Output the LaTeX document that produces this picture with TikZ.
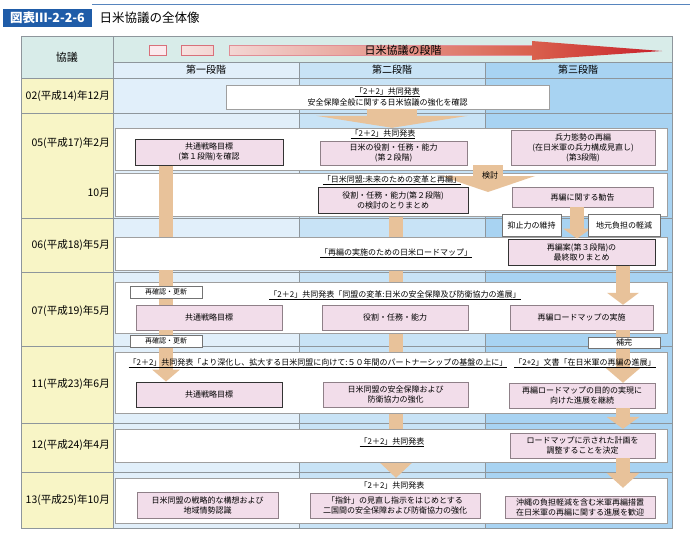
\documentclass[tikz,border=0pt]{standalone}
\usepackage{fontspec}
\setmainfont{Noto Sans CJK JP}
\usetikzlibrary{arrows.meta,positioning,shadows}
\definecolor{titleblue}{HTML}{1F5CA8}
\definecolor{headc}{HTML}{D8ECE9}
\definecolor{yearc}{HTML}{F8F5C6}
\definecolor{colone}{HTML}{E1EFFA}
\definecolor{coltwo}{HTML}{C8E3F6}
\definecolor{colthree}{HTML}{A8D3F2}
\definecolor{gridc}{HTML}{8E969C}
\definecolor{pinkc}{HTML}{F2DDEA}
\definecolor{pinkline}{HTML}{8F8088}
\definecolor{tanc}{HTML}{E8C29A}
\definecolor{stagec}{HTML}{D9707A}
\definecolor{stagelt}{HTML}{FBEAEE}
\definecolor{stagemid}{HTML}{F3D6D3}
\definecolor{stagedk}{HTML}{D9604D}
\definecolor{stagetip}{HTML}{C8202A}
\pgfdeclarelayer{back}
\pgfdeclarelayer{mid}
\pgfsetlayers{back,mid,main}

\begin{document}
\begin{tikzpicture}[x=1pt,y=-1pt,font=\fontsize{8}{10}\selectfont]
\tikzstyle{panel}=[draw=gray!75,fill=white,inner sep=0pt,align=center,minimum width=552pt,drop shadow={shadow xshift=1.2pt,shadow yshift=-1.2pt,fill=gray!60,opacity=.8}]
\tikzstyle{pbox}=[draw=pinkline,fill=pinkc,inner sep=0pt,align=center]
\tikzstyle{pboxb}=[pbox,draw=black!80,line width=1pt]
\tikzstyle{tag}=[draw=gray!90!black,fill=white,inner sep=0pt]
\tikzstyle{note}=[inner sep=0pt]
\tikzstyle{yr}=[anchor=east,inner sep=0pt,font=\fontsize{10.5}{12}\selectfont]
\tikzstyle{stagehead}=[inner sep=0pt,font=\fontsize{10}{12}\selectfont]
\tikzstyle{tanbar}=[draw=tanc,line width=14pt]
\useasboundingbox (0,0) rectangle (694,533);

% table background
\begin{pgfonlayer}{back}
\fill[headc] (21,36) rectangle (672,62);
\fill[headc] (21,62) rectangle (113,78);
\fill[yearc] (21,78) rectangle (113,528);
\fill[colone] (113,62) rectangle (299,528);
\fill[coltwo] (299,62) rectangle (485,528);
\fill[colthree] (485,62) rectangle (672,528);
\draw[gridc] (21,36) rectangle (672,528);
\draw[gridc] (113,36) -- (113,528) (113,62) -- (672,62) (21,78) -- (672,78)
  (299,62) -- (299,528) (485,62) -- (485,528);
\foreach \y in {113,218,272,346,423,472}
  \draw[gridc,line width=.8pt] (21,\y) -- (672,\y);
\end{pgfonlayer}

% title
\fill[titleblue] (3,9) rectangle (92,27);
\draw[titleblue!75,line width=1pt] (92,4) -- (690,4);
\node[text=white,font=\fontsize{12.5}{14}\selectfont\bfseries] (fig) at (47.5,18) {図表Ⅲ-2-2-6};
\node[anchor=west,font=\fontsize{12.5}{14}\selectfont] (title) at (96,18) {日米協議の全体像};

% stage arrow
\draw[stagec,fill=stagelt] (149,45) rectangle (166,55);
\draw[stagec,left color=stagemid!70,right color=stagemid] (181,45) rectangle (213,55);
\shade[left color=stagemid,right color=stagedk] (229,45) rectangle (533,55);
\draw[stagec!80] (533,45) -- (229,45) -- (229,55) -- (533,55);
\shade[left color=stagedk,right color=stagetip] (532,41) -- (662,51) -- (532,60) -- cycle;
\node[stagehead,font=\fontsize{11}{12}\selectfont] (stage) at (403,50) {日米協議の段階};

\node[stagehead,font=\fontsize{11}{12}\selectfont] (kyogi) at (67,57) {協議};
\node[stagehead] (st1) at (206,70) {第一段階};
\node[stagehead] (st2) at (392,70) {第二段階};
\node[stagehead] (st3) at (578,70) {第三段階};

% years
\node[yr] (y02) at (110,96) {02(平成14)年12月};
\node[yr] (y05) at (110,143) {05(平成17)年2月};
\node[yr] (y10) at (110,193) {10月};
\node[yr] (y06) at (110,245) {06(平成18)年5月};
\node[yr] (y07) at (110,311) {07(平成19)年5月};
\node[yr] (y11) at (110,384) {11(平成23)年6月};
\node[yr] (y12) at (110,445) {12(平成24)年4月};
\node[yr] (y13) at (110,500) {13(平成25)年10月};

% panels
\node[panel,minimum width=323pt,minimum height=24pt] (p02) at (387.5,97) {\underline{「2＋2」共同発表}\\[1pt]安全保障全般に関する日米協議の強化を確認};
\node[panel,minimum height=42pt] (p05) at (391,149) {};
\node[panel,minimum height=43pt] (p10) at (391,194.5) {};
\node[panel,minimum height=33pt] (p06) at (391,253.5) {};
\node[panel,minimum height=51pt] (p07) at (391,307.5) {};
\node[panel,minimum height=61pt] (p11) at (391,382.5) {};
\node[panel,minimum height=33pt] (p12) at (391,445.5) {};
\node[panel,minimum height=45pt] (p13) at (391,500.5) {};

% boxes
\node[pboxb,minimum width=148pt,minimum height=26pt] (mokuhyo1) at (209,152) {共通戦略目標\\(第１段階)を確認};
\node[pbox,minimum width=147pt,minimum height=24pt] (yakuwari1) at (393.5,153) {日米の役割・任務・能力\\(第２段階)};
\node[pbox,minimum width=144pt,minimum height=35pt] (taisei) at (583,147.5) {兵力態勢の再編\\(在日米軍の兵力構成見直し)\\(第3段階)};
\node[pboxb,minimum width=150pt,minimum height=26pt] (kento) at (393,200) {役割・任務・能力(第２段階)\\の検討のとりまとめ};
\node[pbox,minimum width=141pt,minimum height=20pt] (kankoku) at (582.5,197) {再編に関する勧告};
\node[pboxb,minimum width=147pt,minimum height=26pt] (saihen) at (581.5,252) {再編案(第３段階)の\\最終取りまとめ};
\node[pbox,minimum width=146pt,minimum height=25pt] (mokuhyo2) at (209,317.5) {共通戦略目標};
\node[pbox,minimum width=146pt,minimum height=25pt] (yakuwari2) at (395,317.5) {役割・任務・能力};
\node[pbox,minimum width=143pt,minimum height=25pt] (roadmap) at (581.5,317.5) {再編ロードマップの実施};
\node[pboxb,minimum width=146pt,minimum height=25pt] (mokuhyo3) at (209,394.5) {共通戦略目標};
\node[pbox,minimum width=145pt,minimum height=25pt] (kyoka) at (395.5,394.5) {日米同盟の安全保障および\\防衛協力の強化};
\node[pbox,minimum width=146pt,minimum height=25pt] (keizoku) at (582,395.5) {再編ロードマップの目的の実現に\\向けた進展を継続};
\node[pbox,minimum width=145pt,minimum height=25pt] (chosei) at (582.5,445.5) {ロードマップに示された計画を\\調整することを決定};
\node[pbox,minimum width=141pt,minimum height=26pt] (koso) at (207.5,505) {日米同盟の戦略的な構想および\\地域情勢認識};
\node[pbox,minimum width=170pt,minimum height=25pt] (shishin) at (395,505.5) {「指針」の見直し指示をはじめとする\\二国間の安全保障および防衛協力の強化};
\node[pbox,minimum width=150pt,minimum height=22pt] (kangei) at (580,507) {沖縄の負担軽減を含む米軍再編措置\\在日米軍の再編に関する進展を歓迎};

% arrows
\coordinate (xa) at (166,0);
\coordinate (xb) at (396,0);
\coordinate (xc) at (623,0);
\coordinate (xd) at (577,0);
\coordinate (xe) at (488,0);
\coordinate (xf) at (392,0);
\coordinate (kt) at (488,192);

\begin{pgfonlayer}{mid}
\draw[tanbar,-{Triangle[width=32pt,length=15pt,line width=0pt]}] (kento.south -| xb) -- (p13.north -| xb);
\end{pgfonlayer}

\draw[tanbar,line width=50pt,-{Triangle[width=152pt,length=12pt,line width=0pt]}] (p02.south -| xf) -- (p05.north -| xf);
\draw[tanbar] (mokuhyo1.south -| xa) -- (p06.north -| xa);
\draw[tanbar] (p06.south -| xa) -- (mokuhyo2.north -| xa);
\draw[tanbar,-{Triangle[width=28pt,length=12pt,line width=0pt]}] (mokuhyo2.south -| xa) -- (mokuhyo3.north -| xa);
\draw[tanbar,line width=30pt,-{Triangle[width=94pt,length=16pt,line width=0pt]}] (yakuwari1.south -| xe) -- (kt);
\draw[tanbar,-{Triangle[width=28pt,length=10pt,line width=0pt]}] (kankoku.south -| xd) -- (saihen.north -| xd);
\draw[tanbar,-{Triangle[width=32pt,length=12pt,line width=0pt]}] (saihen.south -| xc) -- (roadmap.north -| xc);
\draw[tanbar,-{Triangle[width=35pt,length=15pt,line width=0pt]}] (roadmap.south -| xc) -- (keizoku.north -| xc);
\draw[tanbar,-{Triangle[width=33pt,length=12pt,line width=0pt]}] (keizoku.south -| xc) -- (p12.north -| xc);
\draw[tanbar,shorten >=8pt,-{Triangle[width=33pt,length=15pt,line width=0pt]}] (chosei.south -| xc) -- (kangei.north -| xc);

% tags
\node[tag,minimum width=72pt,minimum height=12pt,font=\fontsize{7}{8}\selectfont] (kaku1) at (166,292) {再確認・更新};
\node[tag,minimum width=72pt,minimum height=12pt,font=\fontsize{7}{8}\selectfont] (kaku2) at (166,341) {再確認・更新};
\node[tag,minimum width=59pt,minimum height=22pt] (yokushi) at (531.5,225) {抑止力の維持};
\node[tag,minimum width=72pt,minimum height=22pt] (jimoto) at (624,225) {地元負担の軽減};
\node[tag,minimum width=72pt,minimum height=11pt] (hokan) at (624,342.5) {補完};
\node[note] (kentolbl) at (490,175) {検討};

% statements
\node[note] (tp05) at (383,134) {\underline{「2＋2」共同発表}};
\node[note] (tp10) at (392,180) {\underline{「日米同盟:未来のための変革と再編」}};
\node[note] (tp06) at (396,253) {\underline{「再編の実施のための日米ロードマップ」}};
\node[note] (tp07) at (395,295) {\underline{「2＋2」共同発表「同盟の変革:日米の安全保障及び防衛協力の進展」}};
\node[note] (tp11a) at (318,363) {\underline{「2＋2」共同発表「より深化し、拡大する日米同盟に向けて:５０年間のパートナーシップの基盤の上に」}};
\node[note] (tp11b) at (585,363) {\underline{「2+2」文書「在日米軍の再編の進展」}};
\node[note] (tp12) at (392,442) {\underline{「2＋2」共同発表}};
\node[note] (tp13) at (392,485) {「2＋2」共同発表};
\end{tikzpicture}
\end{document}
